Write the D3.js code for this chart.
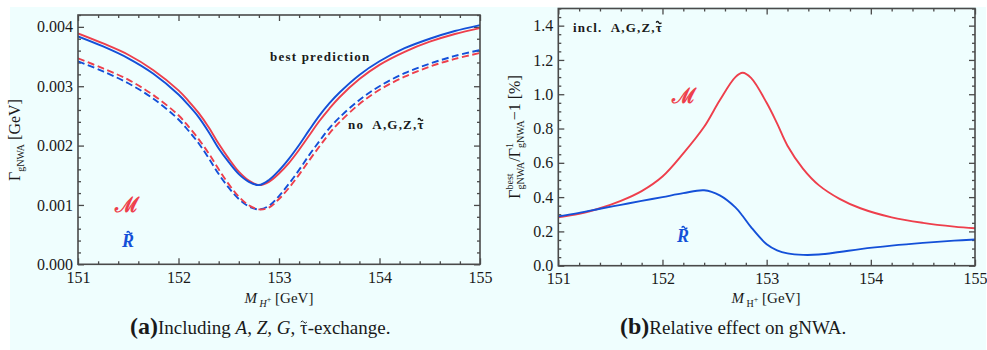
<!DOCTYPE html>
<html><head><meta charset="utf-8">
<script src="https://cdn.jsdelivr.net/npm/d3@7"></script>
<style>
body{margin:0;background:#fff}
svg{display:block}
text{font-family:"Liberation Serif","Times New Roman",serif;white-space:pre}
</style>
</head><body>
<svg id="c" width="987" height="350"></svg>
<script>
// ---------- data: panel (a)  (Gamma in GeV) ----------
const massA = [151,151.25,151.5,151.75,152,152.1,152.2,152.3,152.4,152.5,152.6,152.7,152.8,152.9,153,153.1,153.2,153.3,153.4,153.5,153.6,153.8,154,154.25,154.5,154.75,155];
const bestM = [0.00389,0.00372,0.00353,0.00327,0.00293,0.00275,0.00255,0.00231,0.00203,0.00178,0.00156,0.00141,0.001335,0.00139,0.00153,0.00171,0.00193,0.00217,0.00241,0.00262,0.00281,0.00312,0.00336,0.00358,0.00375,0.00388,0.00398];
const bestR = [0.00384,0.00367,0.00347,0.00321,0.00286,0.00268,0.00248,0.00223,0.00195,0.00172,0.00152,0.00139,0.001335,0.00142,0.00158,0.00178,0.00201,0.00226,0.00250,0.00271,0.00289,0.00319,0.00342,0.00364,0.00380,0.00393,0.00403];
const noM   = [0.00347,0.00330,0.00311,0.00285,0.00251,0.00232,0.00211,0.00187,0.00160,0.00135,0.00114,0.000995,0.000925,0.000955,0.00110,0.00129,0.00151,0.00175,0.00198,0.00220,0.00239,0.00270,0.00294,0.00316,0.00333,0.00346,0.00356];
const noR   = [0.00342,0.00325,0.00305,0.00279,0.00244,0.00225,0.00204,0.00179,0.00152,0.00129,0.00110,0.000975,0.000925,0.000985,0.00115,0.00136,0.00159,0.00184,0.00207,0.00229,0.00247,0.00277,0.00300,0.00322,0.00338,0.00351,0.00361];
const yTicksA = [0,0.001,0.002,0.003,0.004];
const xTicks = [151,152,153,154,155];

// ---------- data: panel (b)  (percent) ----------
const massB = [151,151.2,151.4,151.6,151.8,152,152.2,152.4,152.55,152.7,152.77,152.85,153,153.1,153.2,153.35,153.5,153.7,153.9,154.2,154.5,154.8,155];
const relM  = [0.282,0.302,0.335,0.378,0.435,0.52,0.655,0.81,0.965,1.10,1.125,1.095,0.95,0.83,0.70,0.565,0.47,0.39,0.335,0.282,0.25,0.228,0.218];
const relR  = [0.288,0.308,0.332,0.355,0.378,0.40,0.423,0.44,0.41,0.34,0.29,0.225,0.125,0.09,0.072,0.063,0.065,0.08,0.097,0.117,0.133,0.146,0.153];
const yTicksB = [0,0.2,0.4,0.6,0.8,1.0,1.2,1.4];

const RED = "#ee3f4c", BLUE = "#1450d8", AX = "#4a4a4a", INK = "#1a1a1a";

const svg = d3.select("#c");
svg.append("rect").attr("x",10).attr("y",7).attr("width",976).attr("height",343).attr("fill","#effefe");

// rich text helper; tildes are drawn as small paths above a glyph
function rich(parent, parts, baseSize, fill){
  const g = parent.append("g");
  let x = 0;
  parts.forEach(p=>{
    if(typeof p === "string") p = {t:p};
    const sz = p.size || baseSize;
    const col = p.fill || fill || INK;
    if(p.sup !== undefined){
      const a = g.append("text").attr("x",x).attr("y",p.supDy).style("font-size",p.ssize+"px").style("fill",col).text(p.sup);
      const b = g.append("text").attr("x",x).attr("y",p.subDy).style("font-size",p.ssize+"px").style("fill",col).text(p.sub);
      x += Math.max(a.node().getComputedTextLength(), b.node().getComputedTextLength());
    } else {
      const t = g.append("text").attr("x",x).attr("y",p.dy||0).style("font-size",sz+"px")
        .style("font-style",p.italic?"italic":"normal").style("font-weight",p.bold?"bold":"normal")
        .style("fill",col).text(p.t);
      if(p.ls) t.style("letter-spacing",p.ls+"px");
      const w = t.node().getComputedTextLength();
      if(p.tilde){
        const cx = x + w/2 + (p.tx||0), ty = p.ty, hw = p.tw||3;
        g.append("path").attr("d",`M${cx-hw},${ty+0.6} q${hw/2},${-2.2} ${hw},0 t${hw},0`)
          .attr("fill","none").attr("stroke",col).attr("stroke-width",p.bold?1.3:1);
      }
      x += w;
    }
  });
  return {g, w:x};
}

function panel(o){
  const x = d3.scaleLinear().domain([151,155]).range([o.x0,o.x1]);
  const y = d3.scaleLinear().domain(o.ydom).range([o.y1,o.y0]);
  const g = svg.append("g");
  const id = "clip"+o.name;
  svg.append("clipPath").attr("id",id).append("rect").attr("x",o.x0).attr("y",o.y0).attr("width",o.x1-o.x0).attr("height",o.y1-o.y0);

  const minorX = d3.range(151,155.001,0.2).filter(v=>Math.abs(v-Math.round(v))>1e-6);
  const minorY = d3.range(o.ydom[0], o.ydom[1]+1e-9, o.ystep).filter(v=>!o.yticks.some(t=>Math.abs(t-v)<1e-9));
  function styleAx(sel){ sel.select(".domain").remove(); sel.selectAll("line").attr("stroke",AX).attr("stroke-width",1.3);
    sel.selectAll("text").style("font-size","16px").style("fill",INK); }
  g.append("g").attr("transform",`translate(0,${o.y1})`).call(d3.axisBottom(x).tickValues(xTicks).tickFormat(d3.format("d")).tickSize(-6).tickPadding(7)).call(styleAx);
  g.append("g").attr("transform",`translate(0,${o.y1})`).call(d3.axisBottom(x).tickValues(minorX).tickFormat("").tickSize(-3)).call(styleAx);
  g.append("g").attr("transform",`translate(0,${o.y0})`).call(d3.axisTop(x).tickValues(xTicks).tickFormat("").tickSize(-6)).call(styleAx);
  g.append("g").attr("transform",`translate(0,${o.y0})`).call(d3.axisTop(x).tickValues(minorX).tickFormat("").tickSize(-3)).call(styleAx);
  g.append("g").attr("transform",`translate(${o.x0},0)`).call(d3.axisLeft(y).tickValues(o.yticks).tickFormat(d3.format(o.yfmt)).tickSize(-6).tickPadding(5)).call(styleAx);
  g.append("g").attr("transform",`translate(${o.x0},0)`).call(d3.axisLeft(y).tickValues(minorY).tickFormat("").tickSize(-3)).call(styleAx);
  g.append("g").attr("transform",`translate(${o.x1},0)`).call(d3.axisRight(y).tickValues(o.yticks).tickFormat("").tickSize(-6)).call(styleAx);
  g.append("g").attr("transform",`translate(${o.x1},0)`).call(d3.axisRight(y).tickValues(minorY).tickFormat("").tickSize(-3)).call(styleAx);

  const lines = g.append("g").attr("clip-path",`url(#${id})`);
  o.series.forEach(s=>{
    const line = d3.line().x((d,i)=>x(s.m[i])).y(d=>y(d)).curve(d3.curveCatmullRom.alpha(0.5));
    lines.append("path").attr("d",line(s.v)).attr("fill","none").attr("stroke",s.c).attr("stroke-width",1.9)
      .attr("stroke-dasharray",s.dash?"7,3.5":null);
  });
  g.append("rect").attr("x",o.x0).attr("y",o.y0).attr("width",o.x1-o.x0).attr("height",o.y1-o.y0)
    .attr("fill","none").attr("stroke",AX).attr("stroke-width",1.6);
  return {x,y,g};
}

panel({name:"a",x0:78,x1:480,y0:15,y1:264.3,ydom:[0,0.0042],ystep:0.0002,yticks:yTicksA,yfmt:".3f",
  series:[{m:massA,v:noR,c:BLUE,dash:true},{m:massA,v:noM,c:RED,dash:true},{m:massA,v:bestM,c:RED},{m:massA,v:bestR,c:BLUE}]});
panel({name:"b",x0:558.3,x1:975,y0:8.5,y1:265.7,ydom:[0,1.5],ystep:0.05,yticks:yTicksB,yfmt:".1f",
  series:[{m:massB,v:relM,c:RED},{m:massB,v:relR,c:BLUE}]});

// in-plot labels
rich(svg,[{t:"best prediction",bold:true,ls:1.2}],13).g.attr("transform","translate(270,61)");
rich(svg,[{t:"no  A,G,Z,",bold:true,ls:1.2},{t:"τ",bold:true,tilde:true,ty:-10,tw:2.6}],13).g.attr("transform","translate(348,129)");
rich(svg,[{t:"incl.  A,G,Z,",bold:true,ls:1.2},{t:"τ",bold:true,tilde:true,ty:-10,tw:2.6}],13).g.attr("transform","translate(573,32)");

function sym(cx,y,kind,c){
  if(kind==="M"){
    const r = rich(svg,[{t:"\u2133",size:21,bold:true,fill:c}],21);
    r.g.attr("transform",`translate(${cx-r.w/2},${y})`);
  } else {
    const r = rich(svg,[{t:"R",size:18,bold:true,italic:true,fill:c,tilde:true,ty:-15,tx:1.5,tw:2.8}],18);
    r.g.attr("transform",`translate(${cx-r.w/2},${y})`);
  }
}
sym(127,212,"M",RED);
sym(128,247,"R",BLUE);
sym(684,103,"M",RED);
sym(683,242,"R",BLUE);

// y axis label (a)
{
  const r = rich(svg, [{t:"Γ",size:16},{t:"gNWA",size:10,dy:4},{t:" [GeV]",size:16}],16);
  r.g.attr("transform",`translate(20,${140+r.w/2}) rotate(-90)`);
}
// y axis label (b)
{
  const r = rich(svg, [{t:"Γ",size:16},{sup:"best",sub:"gNWA",supDy:-7,subDy:4,ssize:10},{t:"/",size:16},{t:"Γ",size:16},
    {sup:"1",sub:"gNWA",supDy:-7,subDy:4,ssize:10},{t:"−1 [%]",size:16}],16);
  r.g.attr("transform",`translate(520,${137+r.w/2}) rotate(-90)`);
}
// x axis labels
{
  const r = rich(svg, [{t:"M",size:15,italic:true},{t:" H",size:10,italic:true,dy:4},{t:"+",size:8,dy:-1},{t:" [GeV]",size:15}],15);
  r.g.attr("transform",`translate(${279-r.w/2},303)`);
  const r2 = rich(svg, [{t:"M",size:15,italic:true},{t:" H",size:10,dy:4},{t:"+",size:8,dy:-1},{t:" [GeV]",size:15}],15);
  r2.g.attr("transform",`translate(${766-r2.w/2},303)`);
}
// captions
{
  const c1 = rich(svg, [{t:"(a)",size:24,bold:true},{t:"Including ",size:19},{t:"A",italic:true},", ",{t:"Z",italic:true},", ",{t:"G",italic:true},", ",{t:"τ",tilde:true,ty:-12.5,tw:3},"-exchange."],19);
  c1.g.attr("transform",`translate(130,334)`);
  const c2 = rich(svg, [{t:"(b)",size:24,bold:true},{t:"Relative effect on gNWA.",size:19}],19);
  c2.g.attr("transform",`translate(620,334)`);
}
</script>
</body></html>
